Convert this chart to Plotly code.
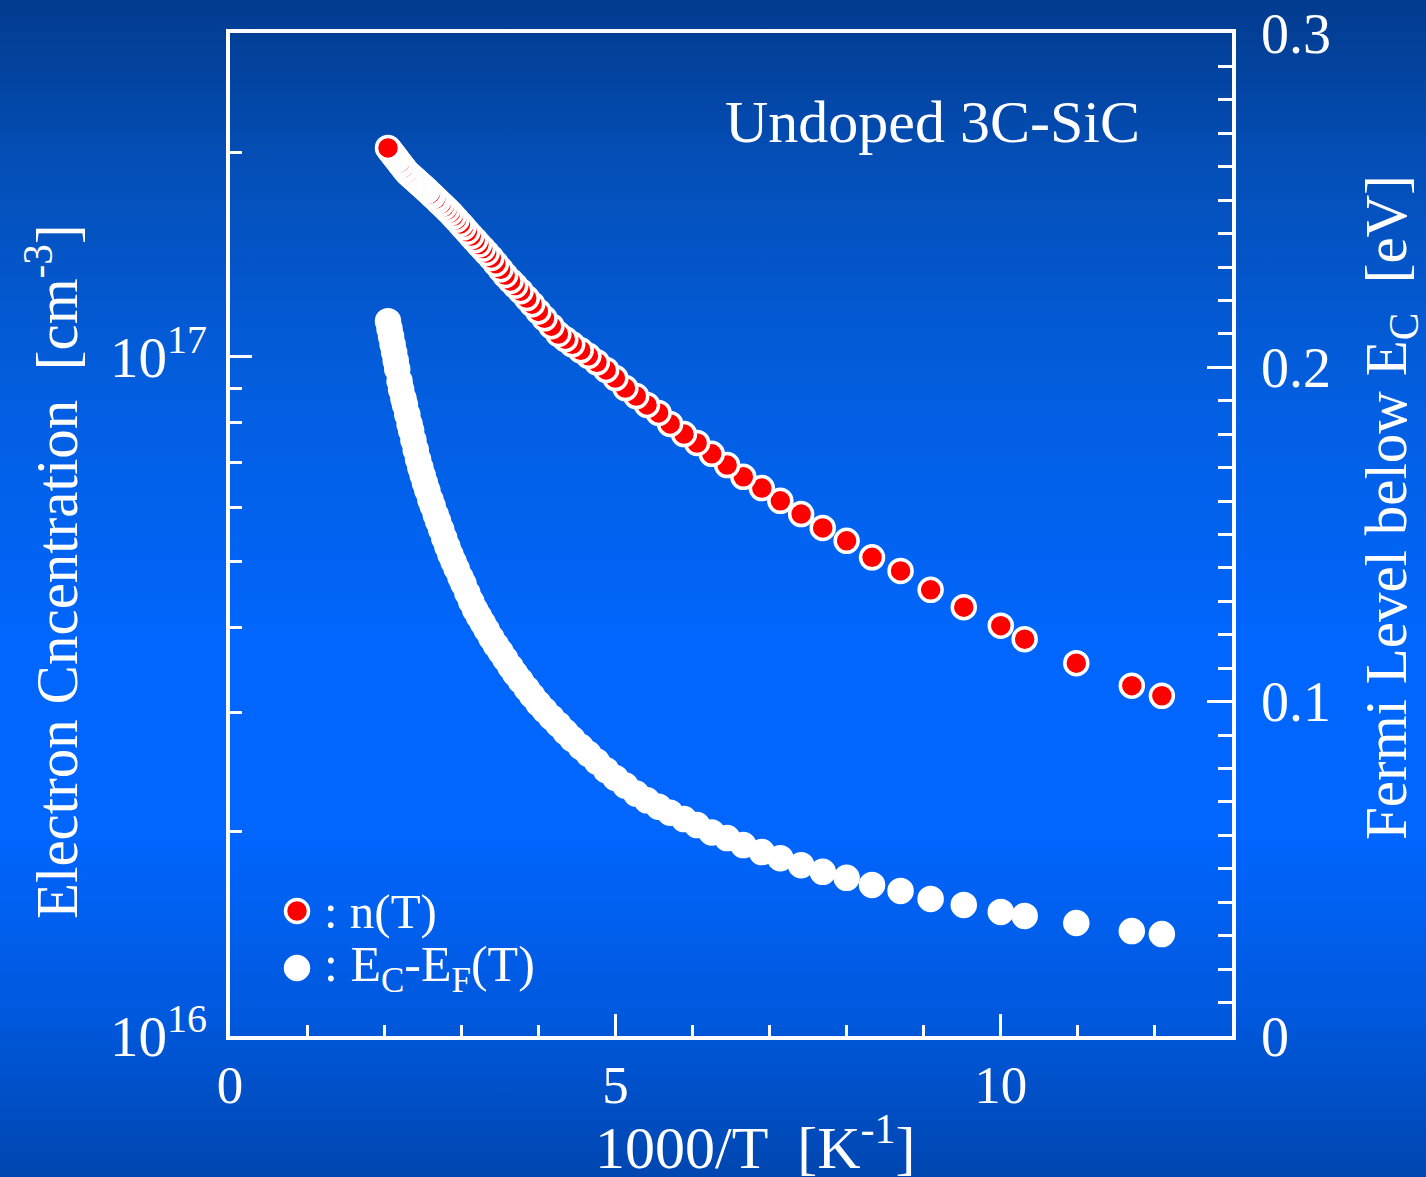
import base64
import plotly.graph_objects as go

# 1000/T [1/K] -- shared abscissa of both series (ordered low to high 1000/T)
inv_T = [2.05, 2.07, 2.09, 2.11, 2.13, 2.15, 2.17, 2.20, 2.22, 2.25, 2.27, 2.30,
         2.33, 2.35, 2.38, 2.41, 2.44, 2.47, 2.50, 2.53, 2.56, 2.60, 2.63, 2.67,
         2.70, 2.74, 2.78, 2.82, 2.86, 2.90, 2.94, 2.99, 3.03, 3.08, 3.13, 3.18,
         3.23, 3.28, 3.33, 3.39, 3.45, 3.51, 3.57, 3.64, 3.70, 3.77, 3.85, 3.92,
         4.00, 4.08, 4.17, 4.26, 4.35, 4.44, 4.55, 4.65, 4.76, 4.88, 5.00, 5.13,
         5.27, 5.41, 5.56, 5.71, 5.89, 6.06, 6.25, 6.45, 6.66, 6.90, 7.14, 7.41,
         7.69, 8.00, 8.33, 8.70, 9.09, 9.52, 10.00, 10.31, 10.98, 11.70, 12.09]

# electron concentration n(T) [cm^-3]
n_T = [2.032e17, 2.018e17, 2.004e17, 1.991e17, 1.977e17, 1.964e17, 1.951e17,
       1.931e17, 1.918e17, 1.899e17, 1.886e17, 1.869e17, 1.856e17, 1.847e17,
       1.834e17, 1.821e17, 1.808e17, 1.796e17, 1.783e17, 1.770e17, 1.758e17,
       1.740e17, 1.727e17, 1.710e17, 1.697e17, 1.680e17, 1.664e17, 1.647e17,
       1.630e17, 1.611e17, 1.593e17, 1.570e17, 1.552e17, 1.529e17, 1.507e17,
       1.486e17, 1.464e17, 1.444e17, 1.423e17, 1.399e17, 1.372e17, 1.346e17,
       1.320e17, 1.294e17, 1.274e17, 1.250e17, 1.221e17, 1.196e17, 1.167e17,
       1.140e17, 1.110e17, 1.081e17, 1.062e17, 1.044e17, 1.023e17, 1.004e17,
       9.82e16, 9.57e16, 9.31e16, 9.00e16, 8.76e16, 8.50e16, 8.27e16, 7.97e16,
       7.70e16, 7.47e16, 7.20e16, 6.93e16, 6.66e16, 6.41e16, 6.14e16, 5.87e16,
       5.60e16, 5.36e16, 5.07e16, 4.84e16, 4.54e16, 4.28e16, 4.02e16, 3.84e16,
       3.54e16, 3.28e16, 3.17e16]

# Fermi level below the conduction band edge, E_C - E_F [eV]
ec_ef = [0.2138, 0.2115, 0.2092, 0.2068, 0.2045, 0.2020, 0.1995, 0.1959,
         0.1934, 0.1907, 0.1888, 0.1859, 0.1830, 0.1811, 0.1782, 0.1753,
         0.1725, 0.1700, 0.1677, 0.1654, 0.1632, 0.1604, 0.1585, 0.1559,
         0.1540, 0.1515, 0.1489, 0.1464, 0.1440, 0.1419, 0.1398, 0.1372,
         0.1352, 0.1325, 0.1299, 0.1275, 0.1255, 0.1235, 0.1215, 0.1191,
         0.1169, 0.1149, 0.1128, 0.1104, 0.1084, 0.1063, 0.1039, 0.1018,
         0.0995, 0.0975, 0.0953, 0.0932, 0.0910, 0.0889, 0.0865, 0.0844,
         0.0821, 0.0795, 0.0772, 0.0749, 0.0725, 0.0705, 0.0686, 0.0668,
         0.0649, 0.0631, 0.0609, 0.0592, 0.0571, 0.0550, 0.0532, 0.0511,
         0.0491, 0.0473, 0.0452, 0.0434, 0.0410, 0.0392, 0.0371, 0.0359,
         0.0338, 0.0314, 0.0305]

x_ticks = [0, 5, 10]
n_ticks = [1e16, 1e17]
n_tick_text = ["10<sup>16</sup>", "10<sup>17</sup>"]
n_minor = [2e16, 3e16, 4e16, 5e16, 6e16, 7e16, 8e16, 9e16, 2e17, 3e17]
e_ticks = [0, 0.1, 0.2, 0.3]
e_tick_text = ["0", "0.1", "0.2", "0.3"]

W, H = 1426, 1177
ML, MR, MT, MB = 230, 194, 33, 141
PW, PH = W - ML - MR, H - MT - MB

SERIF = "Liberation Serif, Times New Roman, serif"
WHITE = "#ffffff"

# vertical blue gradient backdrop for the whole page
svg = f"""<svg xmlns='http://www.w3.org/2000/svg' width='{W}' height='{H}' preserveAspectRatio='none'>
<defs><linearGradient id='g' x1='0' y1='0' x2='0' y2='1'>
<stop offset='0' stop-color='#023a8c'/>
<stop offset='0.15' stop-color='#044fb8'/>
<stop offset='0.35' stop-color='#035fe2'/>
<stop offset='0.55' stop-color='#0066fe'/>
<stop offset='0.70' stop-color='#0066ff'/>
<stop offset='0.86' stop-color='#0058dc'/>
<stop offset='1' stop-color='#0045ad'/>
</linearGradient></defs>
<rect width='{W}' height='{H}' fill='url(#g)'/></svg>"""
bg_uri = "data:image/svg+xml;base64," + base64.b64encode(svg.encode()).decode()

# draw high-1000/T points first so the low-1000/T end lies on top
xs = inv_T[::-1]

fig = go.Figure()
fig.add_trace(go.Scatter(
    x=xs, y=ec_ef[::-1], yaxis="y2", mode="markers", showlegend=False,
    marker=dict(size=23, color=WHITE, line=dict(color=WHITE, width=3.5)),
))
fig.add_trace(go.Scatter(
    x=xs, y=n_T[::-1], mode="markers", showlegend=False,
    marker=dict(size=23, color="#ff0000", line=dict(color=WHITE, width=3.5)),
))

fig.update_layout(
    width=W, height=H,
    margin=dict(l=ML, r=MR, t=MT, b=MB, autoexpand=False),
    paper_bgcolor="#0358d8",
    plot_bgcolor="rgba(0,0,0,0)",
    font=dict(family=SERIF, color=WHITE),
    images=[dict(source=bg_uri, xref="paper", yref="paper",
                 x=-ML / PW - 0.01, y=1 + MT / PH + 0.01,
                 sizex=W / PW + 0.02, sizey=H / PH + 0.02,
                 xanchor="left", yanchor="top", sizing="stretch", layer="below")],
    xaxis=dict(
        range=[0, 13], tickvals=x_ticks, ticks="inside", ticklen=22, tickwidth=3,
        tickcolor=WHITE, showline=True, linewidth=3.5, linecolor=WHITE, mirror=True,
        showgrid=False, zeroline=False, tickfont=dict(size=53, family=SERIF),
        ticklabelstandoff=0, automargin=False,
        minor=dict(dtick=1, ticks="inside", ticklen=11, tickwidth=3, tickcolor=WHITE),
    ),
    yaxis=dict(
        type="log", range=[16, 17.4771], tickvals=n_ticks, ticktext=n_tick_text,
        ticks="inside", ticklen=22, tickwidth=3, tickcolor=WHITE,
        showline=True, linewidth=3.5, linecolor=WHITE, showgrid=False, zeroline=False,
        tickfont=dict(size=57, family=SERIF), ticklabelstandoff=8, automargin=False,
        minor=dict(tickvals=n_minor, ticks="inside", ticklen=12, tickwidth=3,
                   tickcolor=WHITE),
    ),
    yaxis2=dict(
        overlaying="y", side="right", range=[0, 0.3], tickvals=e_ticks,
        ticktext=e_tick_text, ticks="inside", ticklen=25, tickwidth=3,
        tickcolor=WHITE, showline=True, linewidth=3.5, linecolor=WHITE,
        showgrid=False, zeroline=False, tickfont=dict(size=56, family=SERIF),
        ticklabelstandoff=14, automargin=False,
        minor=dict(dtick=0.01, ticks="inside", ticklen=14, tickwidth=3,
                   tickcolor=WHITE),
    ),
)

ann = [
    dict(text="1000/T  [K<sup>-1</sup>]", x=(755 - ML) / PW, y=(H - MB - 1143) / PH,
         font=dict(size=60)),
    dict(text="Electron Cncentration  [cm<sup>-3</sup>]", x=(52 - ML) / PW,
         y=(H - MB - 572) / PH, textangle=-90, font=dict(size=59)),
    dict(text="Fermi Level below E<sub>C</sub>  [eV]", x=(1390 - ML) / PW,
         y=(H - MB - 508) / PH, textangle=-90, font=dict(size=59)),
    dict(text="Undoped 3C-SiC", x=(932 - ML) / PW, y=(H - MB - 122) / PH,
         font=dict(size=60)),
    dict(text=": n(T)", x=(322 - ML) / PW, y=(H - MB - 911) / PH, xanchor="left",
         font=dict(size=49)),
    dict(text=": E<sub>C</sub>-E<sub>F</sub>(T)", x=(322 - ML) / PW,
         y=(H - MB - 968) / PH, xanchor="left", font=dict(size=50)),
]
for a in ann:
    a.setdefault("xanchor", "center")
    fig.add_annotation(xref="paper", yref="paper", yanchor="middle",
                       showarrow=False, **a)

# legend glyphs
for yc, fill in [(911, "#ff0000"), (968, WHITE)]:
    fig.add_shape(type="circle", xref="paper", yref="paper",
                  xsizemode="pixel", ysizemode="pixel",
                  xanchor=(297 - ML) / PW, yanchor=(H - MB - yc) / PH,
                  x0=-11.5, x1=11.5, y0=-11.5, y1=11.5,
                  fillcolor=fill, line=dict(color=WHITE, width=3.5))

fig.write_html("out.html")
